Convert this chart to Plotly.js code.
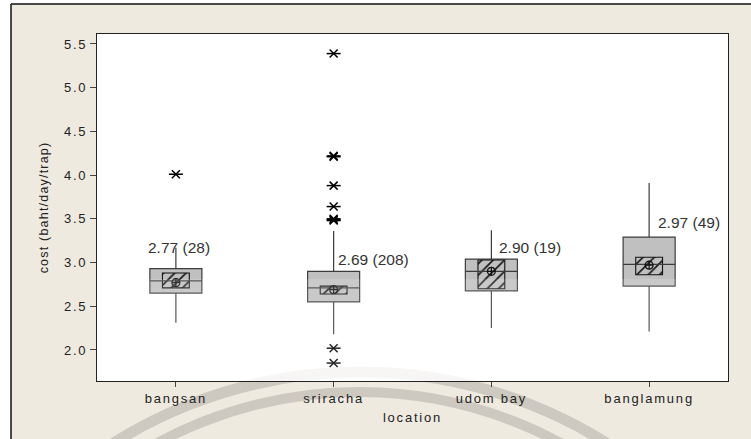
<!DOCTYPE html>
<html>
<head>
<meta charset="utf-8">
<script src="https://cdn.plot.ly/plotly-3.0.1.min.js"></script>
<style>
  html, body { margin: 0; padding: 0; background: #ffffff; }
  #chart { width: 751px; height: 439px; }
  .xtick text, .g-xtitle text, .ytick text { letter-spacing: 1.8px; }
  .g-ytitle text { letter-spacing: 1.2px; }
</style>
</head>
<body>
<div id="chart"></div>
<script>
// ---- data ----
const categories = ['bangsan', 'sriracha', 'udom bay', 'banglamung'];
const q1 = [2.65, 2.55, 2.675, 2.73];
const median = [2.79, 2.71, 2.90, 2.98];
const q3 = [2.93, 2.90, 3.04, 3.29];
const lowerWhisker = [2.31, 2.18, 2.25, 2.21];
const upperWhisker = [3.17, 3.36, 3.37, 3.91];
const means = [2.77, 2.69, 2.90, 2.97];
const counts = [28, 208, 19, 49];
const ciLow = [2.71, 2.64, 2.70, 2.86];
const ciHigh = [2.88, 2.73, 3.03, 3.06];
const outlierCat = ['bangsan', 'sriracha', 'sriracha', 'sriracha', 'sriracha', 'sriracha',
                    'sriracha', 'sriracha', 'sriracha', 'sriracha', 'sriracha'];
const outlierVal = [4.01, 5.39, 4.22, 4.21, 3.88, 3.64, 3.50, 3.49, 3.48, 2.02, 1.85];
const yTicks = [2.0, 2.5, 3.0, 3.5, 4.0, 4.5, 5.0, 5.5];

// ---- styling ----
const labelXShift = [-30, 2, 6, 7];
const labelYShift = [21, 12, 12, 15];
const FONT = 'Liberation Sans, Arial, sans-serif';
const BOX_W = 0.33, CI_W = 0.17;

const traces = [
  // grey box body (interquartile range)
  {
    type: 'bar',
    x: categories,
    base: q1,
    y: q3.map((v, i) => v - q1[i]),
    width: BOX_W,
    marker: { color: '#C0C0C0', line: { width: 0 } },
    hoverinfo: 'skip'
  },
  // hatched confidence interval box for the mean
  {
    type: 'bar',
    x: categories,
    base: ciLow,
    y: ciHigh.map((h, i) => h - ciLow[i]),
    width: CI_W,
    marker: {
      color: 'rgba(0,0,0,0)',
      line: { color: '#111', width: 1.1 },
      pattern: { shape: '/', fgcolor: '#111', bgcolor: 'rgba(0,0,0,0)', size: 8, solidity: 0.2 }
    },
    hoverinfo: 'skip'
  },
  // box outline, median and whiskers
  {
    type: 'box',
    x: categories,
    q1: q1, median: median, q3: q3,
    lowerfence: lowerWhisker, upperfence: upperWhisker,
    boxpoints: false,
    width: BOX_W,
    whiskerwidth: 0,
    fillcolor: 'rgba(0,0,0,0)',
    line: { color: '#3C3C3C', width: 1.2 },
    hoverinfo: 'skip'
  },
  {
    type: 'scatter', mode: 'markers',
    x: categories, y: means,
    marker: { symbol: 'circle-cross-open', size: 8, color: '#111', line: { width: 1.2, color: '#111' } },
    hoverinfo: 'skip'
  },
  {
    type: 'scatter', mode: 'markers',
    x: outlierCat, y: outlierVal,
    marker: { symbol: 'x-thin-open', size: 8, color: '#000', line: { width: 1.5, color: '#000' } },
    hoverinfo: 'skip'
  },
  {
    type: 'scatter', mode: 'markers',
    x: outlierCat, y: outlierVal,
    marker: { symbol: 'line-ew-open', size: 10, color: '#000', line: { width: 1.5, color: '#000' } },
    hoverinfo: 'skip'
  }
];

const annotations = categories.map((c, i) => ({
  x: c, y: q3[i], xref: 'x', yref: 'y',
  xanchor: 'left', yanchor: 'middle',
  xshift: labelXShift[i], yshift: labelYShift[i],
  text: means[i].toFixed(2) + ' (' + counts[i] + ')',
  showarrow: false,
  font: { family: FONT, size: 15.5, color: '#333' }
}));

// paper-coordinate helpers for the frame (plot area 97..728 x 34..381)
const px = v => (v - 97) / 631;
const py = v => (381 - v) / 347;

const shapes = [
  // watermark arcs
  { type: 'circle', xref: 'paper', yref: 'paper', layer: 'below',
    x0: px(-103), x1: px(823), y0: py(1298), y1: py(372),
    line: { color: '#CDC9C1', width: 11 }, fillcolor: 'rgba(0,0,0,0)' },
  { type: 'circle', xref: 'paper', yref: 'paper', layer: 'below',
    x0: px(-65), x1: px(783), y0: py(1240), y1: py(392),
    line: { color: '#CDC9C1', width: 10 }, fillcolor: 'rgba(0,0,0,0)' },
  // plot area veil so the watermark is faint inside the plot
  { type: 'rect', xref: 'paper', yref: 'paper', layer: 'below',
    x0: 0, x1: 1, y0: 0, y1: 1, fillcolor: 'rgba(255,255,255,0.82)', line: { width: 0 } },
  // light veil over the lower part of the plot area
  { type: 'rect', xref: 'paper', yref: 'paper', layer: 'above',
    x0: 0, x1: 1, y0: 0, y1: py(279), fillcolor: 'rgba(255,255,255,0.15)', line: { width: 0 } },
  // white margins outside the framed figure
  { type: 'rect', xref: 'paper', yref: 'paper', layer: 'above',
    x0: px(0), x1: px(11), y0: py(439), y1: py(0), fillcolor: '#ffffff', line: { width: 0 } },
  { type: 'rect', xref: 'paper', yref: 'paper', layer: 'above',
    x0: px(0), x1: px(751), y0: py(4), y1: py(0), fillcolor: '#ffffff', line: { width: 0 } },
  // frame lines
  { type: 'line', xref: 'paper', yref: 'paper', layer: 'above',
    x0: px(11), x1: px(11), y0: py(440), y1: py(4), line: { color: '#111', width: 1.5 } },
  { type: 'line', xref: 'paper', yref: 'paper', layer: 'above',
    x0: px(11), x1: px(752), y0: py(4), y1: py(4), line: { color: '#111', width: 1.5 } }
];

const layout = {
  width: 751, height: 439,
  margin: { l: 97, r: 23, t: 34, b: 58, pad: 0 },
  paper_bgcolor: '#EEEAE0',
  plot_bgcolor: '#ffffff',
  showlegend: false,
  hovermode: false,
  barmode: 'overlay',
  bargap: 0,
  xaxis: {
    type: 'category',
    range: [-0.5, 3.5],
    ticks: 'outside', ticklen: 5, tickwidth: 1, tickcolor: '#444',
    showline: true, mirror: true, linecolor: '#222', linewidth: 1,
    showgrid: false, zeroline: false,
    automargin: false,
    tickfont: { family: FONT, size: 13, color: '#222' },
    title: { text: 'location', font: { family: FONT, size: 13, color: '#222' }, standoff: 8 }
  },
  yaxis: {
    range: [1.645, 5.614],
    tickvals: yTicks,
    ticktext: yTicks.map(v => v.toFixed(1)),
    ticks: 'outside', ticklen: 6, tickwidth: 1, tickcolor: '#444',
    showline: true, mirror: true, linecolor: '#222', linewidth: 1,
    showgrid: false, zeroline: false,
    automargin: false,
    tickfont: { family: FONT, size: 13, color: '#222' },
    title: { text: 'cost (baht/day/trap)', font: { family: FONT, size: 12.5, color: '#222' }, standoff: 12 }
  },
  annotations: annotations,
  shapes: shapes
};

Plotly.newPlot('chart', traces, layout, { staticPlot: true, displayModeBar: false });
</script>
</body>
</html>
